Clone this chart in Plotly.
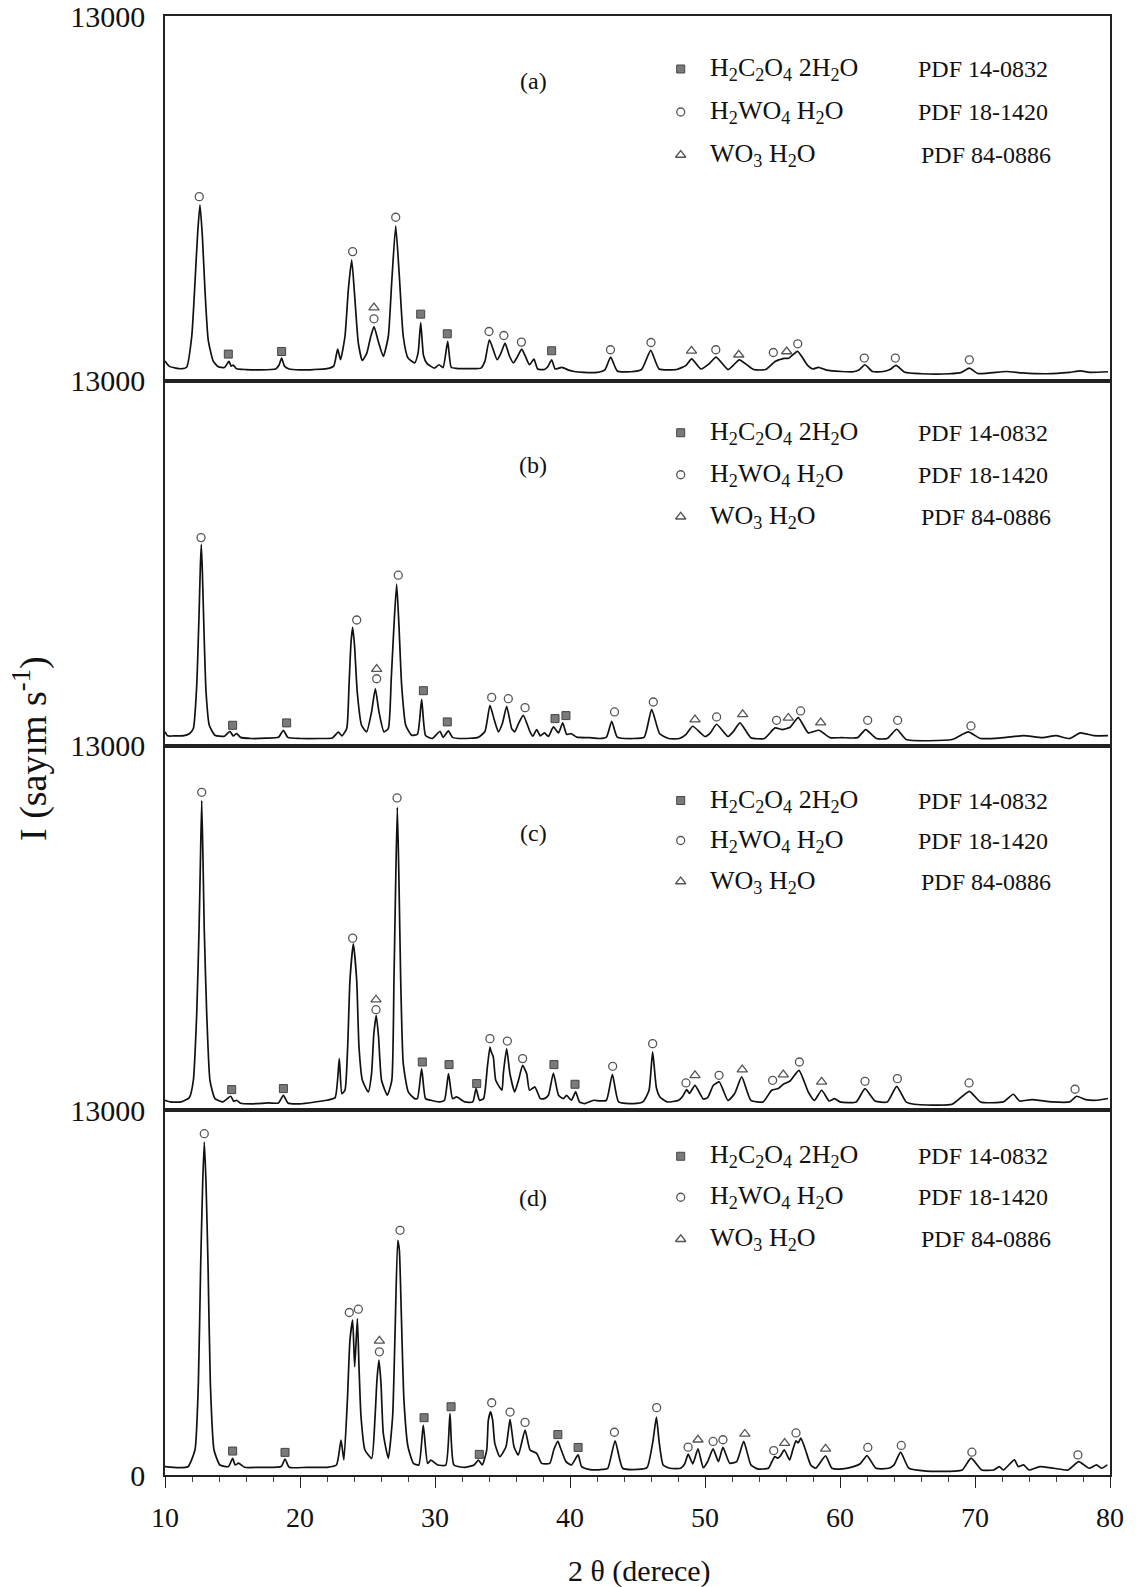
import plotly.graph_objects as go
from plotly.subplots import make_subplots

# ---------------- data (2theta in degrees, intensity in counts) ----------------
A_theta = [10.0, 10.3, 10.8, 11.3, 11.6, 11.98, 12.22, 12.42, 12.59, 12.77, 12.96, 13.2, 13.58, 13.95,
           14.4, 14.74, 14.9, 15.05, 15.3, 16.0, 17.0, 18.2, 18.45, 18.64, 18.85, 19.2, 20.0, 21.0, 22.0,
           22.5, 22.79, 23.0, 23.33, 23.58, 23.83, 24.07, 24.32, 24.62, 24.95, 25.2, 25.48, 25.8, 26.17,
           26.54, 26.79, 27.09, 27.36, 27.65, 28.0, 28.5, 28.75, 28.94, 29.15, 29.4, 29.95, 30.3, 30.6,
           30.94, 31.2, 31.6, 32.5, 33.4, 33.7, 34.03, 34.6, 34.9, 35.19, 35.5, 35.8, 36.1, 36.42, 36.7,
           37.0, 37.33, 37.6, 38.1, 38.35, 38.64, 38.9, 39.4, 39.9, 40.3, 41.0, 42.0, 42.6, 43.01, 43.5,
           44.5, 45.3, 45.98, 46.6, 47.9, 48.6, 49.01, 49.7, 50.3, 50.82, 51.7, 52.1, 52.54, 53.6, 54.5,
           55.19, 55.5, 55.85, 56.2, 56.86, 57.6, 58.0, 58.4, 59.0, 60.1, 61.0, 61.4, 61.85, 62.4, 63.2,
           63.7, 64.15, 64.8, 66.0, 68.1, 69.0, 69.58, 70.2, 72.3, 73.5, 75.3, 77.0, 77.8, 78.5, 79.85]
A_int = [700, 520, 450, 430, 480, 1577, 3490, 5270, 6266, 5137, 3240, 1460, 687, 500,
         470, 690, 520, 560, 430, 400, 390, 420, 560, 808, 520, 420, 390, 400, 430,
         520, 1128, 750, 1577, 3240, 4308, 2884, 1342, 723, 986, 1500, 1933, 1400, 865,
         1577, 3478, 5518, 3714, 1577, 808, 640, 1000, 2076, 900, 620, 450, 570, 470,
         1400, 480, 440, 430, 450, 700, 1460, 750, 1000, 1342, 900, 640, 850, 1128, 865,
         570, 772, 420, 400, 500, 747, 420, 480, 380, 330, 296, 296, 400, 843, 350,
         320, 400, 1080, 420, 400, 550, 783, 420, 600, 843, 400, 550, 747, 400, 400,
         688, 747, 800, 800, 1045, 550, 420, 480, 380, 330, 320, 380, 570, 330, 330,
         400, 546, 300, 250, 250, 300, 450, 260, 330, 280, 250, 300, 350, 300, 320]

B_theta = [10.0, 10.2, 10.6, 11.4, 11.8, 12.1, 12.35, 12.52, 12.62, 12.69, 12.77, 12.89, 13.04, 13.28,
           13.7, 14.4, 14.81, 15.05, 15.3, 15.6, 16.4, 17.5, 18.4, 18.77, 19.1, 20.0, 21.5, 22.4, 22.84,
           23.1, 23.46, 23.63, 23.78, 23.9, 24.04, 24.24, 24.56, 24.93, 25.3, 25.58, 25.85, 26.22, 26.54,
           26.76, 26.96, 27.16, 27.33, 27.53, 27.83, 28.27, 28.7, 29.01, 29.3, 29.8, 30.37, 30.6, 30.99,
           31.3, 32.0, 33.2, 33.7, 34.07, 34.4, 34.7, 35.0, 35.31, 35.68, 35.9, 36.2, 36.54, 37.04, 37.25,
           37.53, 37.8, 38.1, 38.4, 38.77, 39.15, 39.46, 39.75, 40.1, 40.5, 41.4, 42.2, 42.7, 43.09, 43.5,
           44.7, 45.5, 46.05, 46.64, 47.3, 48.1, 48.6, 49.09, 50.0, 50.4, 50.86, 51.7, 52.1, 52.59, 53.4,
           54.4, 55.19, 55.7, 56.3, 56.91, 57.65, 58.44, 59.26, 60.1, 61.3, 61.9, 62.7, 63.5, 64.2, 64.9,
           68.3, 69.5, 70.4, 72.1, 73.6, 75.0, 76.0, 77.0, 77.8, 78.8, 79.85]
B_int = [486, 344, 340, 350, 420, 604, 2141, 4626, 6400, 7171, 6166, 4036, 1906, 721,
         366, 330, 508, 340, 426, 290, 249, 260, 290, 544, 290, 249, 249, 270, 478,
         344, 604, 2141, 3680, 4213, 3562, 1906, 721, 486, 1195, 2024, 1195, 486, 604,
         2379, 4272, 5751, 4272, 2141, 721, 366, 400, 1645, 360, 249, 508, 290, 520,
         290, 249, 290, 500, 1432, 899, 486, 800, 1396, 604, 486, 800, 1077, 486, 330,
         568, 344, 450, 320, 663, 450, 805, 400, 420, 300, 280, 249, 300, 864, 300,
         249, 300, 1290, 420, 249, 249, 400, 686, 320, 450, 757, 320, 500, 805, 280,
         249, 627, 568, 650, 994, 450, 544, 280, 280, 280, 568, 249, 249, 580, 213,
         213, 486, 249, 280, 350, 280, 350, 249, 450, 350, 350]

C_theta = [10.0, 10.4, 11.2, 11.8, 12.1, 12.35, 12.52, 12.62, 12.72, 12.82, 12.91, 13.09, 13.33, 13.7,
           14.3, 14.86, 15.1, 15.3, 15.6, 16.4, 17.7, 18.4, 18.77, 19.1, 20.0, 21.98, 22.6, 22.91, 23.1,
           23.33, 23.53, 23.7, 23.95, 24.2, 24.37, 24.62, 25.06, 25.3, 25.47, 25.65, 25.82, 26.04, 26.47,
           26.8, 26.96, 27.09, 27.21, 27.33, 27.46, 27.65, 28.02, 28.5, 28.7, 29.01, 29.3, 29.7, 30.3,
           30.7, 31.0, 31.3, 31.6, 32.2, 32.8, 33.04, 33.3, 33.6, 33.88, 34.07, 34.15, 34.32, 34.5, 34.96,
           35.06, 35.31, 35.55, 35.9, 36.2, 36.49, 36.79, 37.0, 37.4, 37.8, 38.1, 38.4, 38.77, 39.15,
           39.5, 39.75, 40.1, 40.42, 40.7, 41.1, 41.75, 42.2, 42.7, 43.14, 43.6, 44.7, 45.4, 45.85, 46.12,
           46.4, 46.66, 47.2, 48.05, 48.35, 48.64, 48.85, 49.26, 49.88, 50.2, 50.62, 51.06, 51.7, 52.2,
           52.72, 53.4, 54.3, 54.94, 55.43, 55.8, 56.3, 56.96, 57.65, 58.1, 58.64, 59.2, 59.6, 60.0, 61.2,
           61.85, 62.6, 63.5, 64.2, 64.9, 65.5, 68.3, 69.58, 70.4, 72.1, 72.84, 73.3, 74.2, 75.7, 77.0,
           77.53, 78.2, 79.0, 79.85]
C_int = [356, 297, 300, 450, 1068, 3441, 6408, 8782, 11036, 8782, 6408, 3441, 1068, 415,
         300, 498, 320, 356, 250, 230, 260, 260, 534, 260, 230, 356, 450, 1839, 594,
         712, 2254, 4628, 5934, 4628, 2254, 1068, 652, 1305, 2730, 3382, 2610, 1068, 534,
         1068, 4628, 8188, 10797, 8188, 4628, 1661, 652, 415, 420, 1483, 415, 356, 297,
         356, 1305, 415, 475, 297, 297, 772, 356, 415, 1543, 2254, 2100, 1898, 1068, 712,
         1305, 2196, 1305, 652, 1100, 1602, 1305, 712, 830, 415, 415, 534, 1328, 534,
         415, 534, 356, 652, 297, 237, 356, 332, 356, 1282, 297, 237, 297, 700, 2077,
         800, 475, 297, 356, 500, 735, 600, 890, 400, 450, 890, 1009, 350, 600,
         1187, 350, 297, 712, 772, 925, 1044, 1424, 652, 350, 712, 330, 415, 297, 297,
         772, 330, 297, 854, 297, 214, 214, 676, 297, 297, 570, 330, 380, 297, 297,
         498, 380, 356, 420]

D_theta = [10.0, 11.0, 11.7, 12.22, 12.47, 12.64, 12.79, 12.91, 13.04, 13.19, 13.36, 13.63, 14.07, 14.7,
           15.01, 15.2, 15.45, 15.9, 17.0, 18.6, 18.89, 19.2, 20.5, 22.0, 22.7, 23.04, 23.25, 23.51, 23.7,
           23.9, 24.05, 24.25, 24.37, 24.52, 24.81, 25.31, 25.56, 25.7, 25.85, 26.0, 26.17, 26.54, 26.86,
           27.04, 27.24, 27.36, 27.51, 27.7, 28.0, 28.4, 28.8, 29.13, 29.45, 29.7, 30.2, 30.8, 31.11, 31.4,
           32.2, 32.9, 33.21, 33.5, 33.83, 33.95, 34.12, 34.27, 34.43, 34.8, 35.26, 35.56, 35.85, 36.17,
           36.67, 37.04, 37.53, 37.9, 38.5, 38.8, 39.1, 39.3, 39.7, 40.1, 40.6, 40.86, 41.4, 41.9, 42.4,
           42.8, 43.34, 43.9, 45.0, 45.7, 46.14, 46.4, 46.6, 46.9, 47.4, 48.2, 48.5, 48.75, 49.1, 49.48,
           49.87, 50.2, 50.6, 50.99, 51.33, 51.83, 52.35, 52.87, 53.4, 53.9, 54.7, 54.96, 55.17, 55.4,
           55.6, 55.87, 56.27, 56.5, 56.74, 56.9, 57.1, 57.44, 57.83, 58.2, 58.93, 59.4, 60.2, 61.0, 61.5,
           62.0, 62.66, 63.6, 64.0, 64.49, 65.1, 66.4, 68.5, 69.06, 69.71, 70.5, 71.4, 71.8, 72.1, 72.92,
           73.2, 73.6, 74.0, 74.8, 75.85, 76.9, 77.68, 78.46, 79.0, 79.37, 79.8]
D_int = [295, 260, 295, 890, 3264, 7416, 10384, 11866, 10384, 7416, 3264, 890, 356, 300,
         594, 356, 420, 274, 274, 300, 570, 274, 274, 274, 356, 1246, 534, 2670, 4806,
         5518, 3856, 5578, 3856, 2076, 890, 594, 2076, 3382, 4094, 3264, 1484, 594, 2076,
         5045, 8366, 8010, 5637, 2670, 1008, 415, 356, 1780, 415, 530, 356, 356, 2196, 356,
         274, 356, 534, 356, 890, 1958, 2255, 1958, 1127, 652, 1008, 1982, 1008, 712,
         1602, 890, 772, 415, 415, 900, 1200, 961, 477, 356, 716, 300, 200, 180, 200,
         240, 1221, 240, 200, 260, 1196, 2065, 1196, 356, 240, 240, 400, 741, 400, 933,
         260, 480, 933, 480, 982, 420, 480, 1196, 360, 220, 240, 480, 655, 600,
         690, 897, 540, 897, 1221, 1140, 1317, 900, 360, 240, 680, 240, 220, 300, 400,
         694, 240, 240, 360, 812, 240, 140, 140, 180, 598, 180, 180, 300, 180, 537,
         300, 360, 180, 300, 240, 180, 477, 240, 360, 240, 360]

# phase markers: (2theta, intensity) for each panel
A_sq_x = [14.69, 18.64, 28.94, 30.91, 38.64]
A_sq_y = [950, 1043, 2374, 1673, 1068]
A_ci_x = [12.54, 23.9, 25.48, 27.09, 34.0, 35.1, 36.4, 43.0, 46.0, 50.8, 55.06, 56.87, 61.8, 64.1, 69.58]
A_ci_y = [6561, 4603, 2207, 5828, 1755, 1613, 1378, 1104, 1363, 1104, 1007, 1317, 808, 808, 747]
A_tr_x = [25.48, 49.0, 52.5, 56.05]
A_tr_y = [2609, 1068, 926, 1043]

B_sq_x = [15.01, 19.01, 29.14, 30.91, 38.89, 39.7]
B_sq_y = [721, 805, 1953, 841, 958, 1065]
B_ci_x = [12.67, 24.2, 25.68, 27.28, 34.2, 35.43, 36.67, 43.3, 46.17, 50.86, 55.3, 57.08, 62.05, 64.27, 69.7]
B_ci_y = [7409, 4473, 2379, 6070, 1715, 1669, 1349, 1196, 1551, 1018, 899, 1231, 899, 899, 698]
B_tr_x = [25.68, 49.26, 52.79, 56.17, 58.57]
B_tr_y = [2723, 923, 1111, 982, 817]

C_sq_x = [14.94, 18.77, 29.06, 31.04, 33.09, 38.81, 40.37]
C_sq_y = [736, 772, 1720, 1627, 950, 1627, 926]
C_ci_x = [12.72, 23.9, 25.63, 27.19, 34.07, 35.36, 36.49, 43.16, 46.12, 48.59, 51.04, 55.01, 56.99,
          61.85, 64.25, 69.56, 77.41]
C_ci_y = [11332, 6134, 3584, 11131, 2552, 2467, 1840, 1566, 2374, 973, 1246, 1068, 1720,
          1032, 1127, 973, 748]
C_tr_x = [25.63, 49.26, 52.76, 55.8, 58.64]
C_tr_y = [3940, 1246, 1448, 1270, 1009]

D_sq_x = [15.01, 18.89, 29.19, 31.19, 33.28, 39.1, 40.6]
D_sq_y = [854, 807, 2041, 2433, 735, 1440, 982]
D_ci_x = [12.91, 23.65, 24.32, 25.88, 27.41, 34.2, 35.56, 36.67, 43.29, 46.42, 48.75, 50.6, 51.33,
          55.09, 56.74, 62.06, 64.54, 69.77, 77.62]
D_ci_y = [12164, 5792, 5910, 4390, 8722, 2575, 2243, 1875, 1523, 2400, 993, 1196, 1256,
          872, 1499, 982, 1054, 812, 716]
D_tr_x = [25.88, 49.48, 52.95, 55.9, 58.93]
D_tr_y = [4782, 1256, 1463, 1139, 933]

panel_labels = ["(a)", "(b)", "(c)", "(d)"]
phase_names = ["H<sub>2</sub>C<sub>2</sub>O<sub>4</sub> 2H<sub>2</sub>O",
               "H<sub>2</sub>WO<sub>4</sub> H<sub>2</sub>O",
               "WO<sub>3</sub> H<sub>2</sub>O"]
pdf_codes = ["PDF 14-0832", "PDF 18-1420", "PDF 84-0886"]
y_max = 13000
x_ticks = [10, 20, 30, 40, 50, 60, 70, 80]

# ---------------- figure ----------------
W, H = 1142, 1587
ML, MR, MT, MB = 165, 32, 16, 112
PW, PH = W - ML - MR, H - MT - MB

fig = make_subplots(rows=4, cols=1, shared_xaxes=True, vertical_spacing=0)

FONT = "Liberation Serif, Times New Roman, serif"
sq_style = dict(symbol="square", size=8, color="#7a7a7a", line=dict(color="#444", width=1))
ci_style = dict(symbol="circle", size=8, color="white", line=dict(color="#555", width=1.3))
tr_style = dict(symbol="triangle-up", size=9, color="white", line=dict(color="#555", width=1.3))

panels = [
    (A_theta, A_int, A_sq_x, A_sq_y, A_ci_x, A_ci_y, A_tr_x, A_tr_y),
    (B_theta, B_int, B_sq_x, B_sq_y, B_ci_x, B_ci_y, B_tr_x, B_tr_y),
    (C_theta, C_int, C_sq_x, C_sq_y, C_ci_x, C_ci_y, C_tr_x, C_tr_y),
    (D_theta, D_int, D_sq_x, D_sq_y, D_ci_x, D_ci_y, D_tr_x, D_tr_y),
]

# pixel offsets (from panel top) of the legend rows and of the panel label
legend_rows = [(53, 96, 139), (52, 94, 136), (55, 95, 136), (46, 87, 129)]
label_rows = [65, 84, 87, 88]


def py(pix):
    return 1 - (pix - MT) / PH


def px(pix):
    return (pix - ML) / PW


def to_val(off):
    return y_max * (1 - off / (PH / 4))


for i, (tx, ty, sx, sy, cx, cy, rx, ry) in enumerate(panels):
    r = i + 1
    fig.add_trace(go.Scatter(x=tx, y=ty, mode="lines",
                             line=dict(color="#111", width=1.7, shape="spline", smoothing=0.5),
                             showlegend=False, hoverinfo="skip"), row=r, col=1)
    fig.add_trace(go.Scatter(x=sx, y=sy, mode="markers", marker=sq_style, showlegend=False), row=r, col=1)
    fig.add_trace(go.Scatter(x=cx, y=cy, mode="markers", marker=ci_style, showlegend=False), row=r, col=1)
    fig.add_trace(go.Scatter(x=rx, y=ry, mode="markers", marker=tr_style, showlegend=False), row=r, col=1)

    # in-panel key
    panel_top = MT + i * PH / 4
    rows = legend_rows[i]
    key_theta = 48.2
    fig.add_trace(go.Scatter(x=[key_theta], y=[to_val(rows[0])], mode="markers", marker=sq_style,
                             showlegend=False, cliponaxis=False), row=r, col=1)
    fig.add_trace(go.Scatter(x=[key_theta], y=[to_val(rows[1])], mode="markers", marker=ci_style,
                             showlegend=False, cliponaxis=False), row=r, col=1)
    fig.add_trace(go.Scatter(x=[key_theta], y=[to_val(rows[2])], mode="markers", marker=tr_style,
                             showlegend=False, cliponaxis=False), row=r, col=1)
    for k in range(3):
        fig.add_annotation(x=px(708), y=py(panel_top + rows[k]), xref="paper", yref="paper",
                           text=phase_names[k], showarrow=False, xanchor="left", yanchor="middle",
                           font=dict(family=FONT, size=26, color="#111"))
        fig.add_annotation(x=px(916 + (3 if k == 2 else 0)), y=py(panel_top + rows[k]), xref="paper",
                           yref="paper", text=pdf_codes[k], showarrow=False, xanchor="left",
                           yanchor="middle", font=dict(family=FONT, size=24, color="#111"))
    fig.add_annotation(x=px(533), y=py(panel_top + label_rows[i]), xref="paper", yref="paper",
                       text=panel_labels[i], showarrow=False, xanchor="center", yanchor="middle",
                       font=dict(family=FONT, size=24, color="#111"))

    ytv = [0, y_max] if r == 4 else [y_max]
    fig.update_yaxes(range=[0, y_max], tickvals=ytv, ticktext=[str(v) for v in ytv], ticks="",
                     showgrid=False, zeroline=False, showline=True, mirror=True, linecolor="#222",
                     linewidth=1.5, tickfont=dict(family=FONT, size=30, color="#111"),
                     ticklabelstandoff=12, ticklabeloverflow="allow", automargin=False, row=r, col=1)
    if r < 4:
        fig.update_xaxes(range=[10, 80], showticklabels=False, ticks="", showgrid=False, zeroline=False,
                         showline=True, mirror=True, linecolor="#222", linewidth=1.5,
                         automargin=False, row=r, col=1)
    else:
        fig.update_xaxes(range=[10, 80], tickvals=x_ticks, ticks="outside", ticklen=11, tickwidth=1.3,
                         tickcolor="#222", showgrid=False, zeroline=False, showline=True, mirror=True,
                         linecolor="#222", linewidth=1.5,
                         minor=dict(dtick=2, ticks="outside", ticklen=5, tickwidth=1, tickcolor="#444",
                                    showgrid=False),
                         tickfont=dict(family=FONT, size=28, color="#111"), ticklabelstandoff=6,
                         ticklabeloverflow="allow", automargin=False, row=r, col=1)

fig.add_annotation(x=px(639), y=py(1571), xref="paper", yref="paper",
                   text="2 θ (derece)", showarrow=False, xanchor="center", yanchor="middle",
                   font=dict(family=FONT, size=30, color="#111"))
fig.add_annotation(x=px(30), y=py(749), xref="paper", yref="paper",
                   text="I (sayım s<sup>-1</sup>)", textangle=-90, showarrow=False,
                   xanchor="center", yanchor="middle", font=dict(family=FONT, size=38, color="#111"))

fig.update_layout(width=W, height=H, margin=dict(l=ML, r=MR, t=MT, b=MB, autoexpand=False),
                  paper_bgcolor="white", plot_bgcolor="white", showlegend=False)

fig.write_html("out.html", config={"displayModeBar": False},
               post_script="document.body.style.margin='0';")
